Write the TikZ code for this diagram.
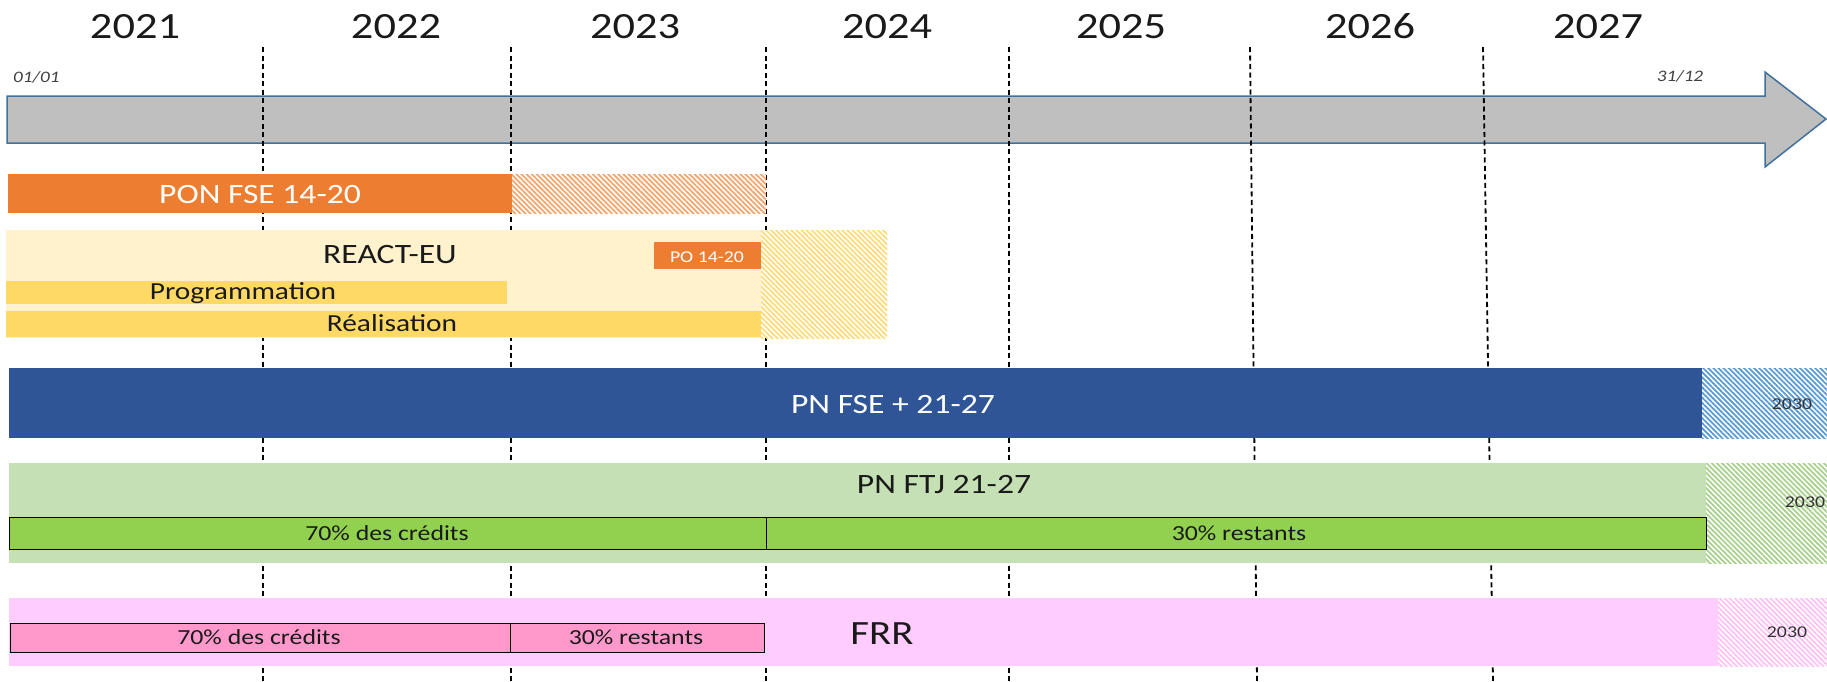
\documentclass[tikz,border=0pt]{standalone}
\usepackage{fontspec}
\setmainfont{Carlito}[FakeStretch=1.2]
\usetikzlibrary{patterns.meta}
\definecolor{grayfill}{HTML}{BFBFBF}
\definecolor{arrowline}{HTML}{41719C}
\definecolor{orangebar}{HTML}{ED7D31}
\definecolor{hatchorange}{HTML}{F4A66F}
\definecolor{reactbg}{HTML}{FFF2CC}
\definecolor{yellowbar}{HTML}{FFD966}
\definecolor{hatchyellow}{HTML}{FFDC7A}
\definecolor{bluebar}{HTML}{2F5597}
\definecolor{hatchblue}{HTML}{5B9BD5}
\definecolor{greenbg}{HTML}{C5E0B4}
\definecolor{greenbar}{HTML}{92D050}
\definecolor{hatchgreen}{HTML}{A9D18E}
\definecolor{pinkbg}{HTML}{FFCCFF}
\definecolor{pinkbar}{HTML}{FF99CC}
\definecolor{hatchpink}{HTML}{FFC2F5}
\definecolor{darktext}{HTML}{1A1A1A}
\begin{document}
\begin{tikzpicture}[x=1pt,y=-1pt,
  txt/.style={anchor=base, inner sep=0pt, text=darktext},
  yr/.style={txt, font=\fontsize{37}{40}\selectfont},
  big/.style={txt, font=\fontsize{28}{32}\selectfont},
  mid/.style={txt, font=\fontsize{24.5}{28}\selectfont},
  small/.style={txt, font=\fontsize{21.5}{24}\selectfont},
  tiny/.style={txt, font=\fontsize{16.5}{19}\selectfont},
  dateit/.style={txt, font=\fontsize{16}{18}\selectfont\itshape, text=black!75},
  yeartag/.style={txt, font=\fontsize{16.5}{19}\selectfont, text=black!80},
  dashline/.style={black, line width=1.8pt, dash pattern=on 5pt off 3.5pt},
  hatch/.style={preaction={fill=white}, pattern={Lines[angle=-45,distance=3.6pt,line width=1.8pt]}, pattern color=#1},
  inbar/.style={draw=black, line width=1pt}
]
\useasboundingbox[fill=white] (0,0) rectangle (1827,681);

% timeline arrow
\draw[fill=grayfill, draw=arrowline, line width=1.5pt]
  (7,96) -- (1765,96) -- (1765,72) -- (1826,119) -- (1765,167) -- (1765,143) -- (7,143) -- cycle;

% year separators
\draw[dashline] (263,47) -- (263,681);
\draw[dashline] (511,47) -- (511,681);
\draw[dashline] (766,47) -- (766,681);
\draw[dashline] (1009,47) -- (1009,681);
\draw[dashline] (1250,47) -- (1257,681);
\draw[dashline] (1483,47) -- (1493,681);

% years
\node[yr] (y21) at (135,38) {2021};
\node[yr] (y22) at (396,38) {2022};
\node[yr] (y23) at (635,38) {2023};
\node[yr] (y24) at (887,38) {2024};
\node[yr] (y25) at (1121,38) {2025};
\node[yr] (y26) at (1370,38) {2026};
\node[yr] (y27) at (1598,38) {2027};
\node[dateit, anchor=base west] (d1) at (13,82) {01/01};
\node[dateit] (d2) at (1680,81) {31/12};

% PON FSE 14-20
\fill[orangebar] (8,174) rectangle (512,213);
\path[hatch=hatchorange] (512,174) rectangle (766,213);
\node[big, text=white] (pon) at (260,203) {PON FSE 14-20};

% REACT-EU
\fill[reactbg] (6,230) rectangle (761,338);
\path[hatch=hatchyellow] (761,230) rectangle (887,338);
\node[big] (react) at (390,263) {REACT-EU};
\fill[orangebar] (654,242) rectangle (761,269);
\node[tiny, text=white] (po) at (707,262) {PO 14-20};
\fill[yellowbar] (6,281) rectangle (507,304);
\node[mid] (prog) at (243,299.5) {Programmation};
\fill[yellowbar] (6,311) rectangle (761,337);
\node[mid] (real) at (392,331.5) {Réalisation};

% PN FSE+ 21-27
\fill[bluebar] (9,368) rectangle (1702,438);
\path[hatch=hatchblue] (1702,368) rectangle (1827,438);
\node[big, text=white] (fse) at (893,413) {PN FSE + 21-27};
\node[yeartag] (t1) at (1792,409) {2030};

% PN FTJ 21-27
\fill[greenbg] (9,463) rectangle (1706,563);
\path[hatch=hatchgreen] (1706,463) rectangle (1827,563);
\node[big] (ftj) at (944,493) {PN FTJ 21-27};
\node[yeartag] (t2) at (1805,507) {2030};
\draw[inbar, fill=greenbar] (9,517) rectangle (1706,549);
\draw[inbar] (766,517) -- (766,549);
\node[small] (g70) at (387,540) {70\% des crédits};
\node[small] (g30) at (1239,540) {30\% restants};

% FRR
\fill[pinkbg] (9,598) rectangle (1718,666);
\path[hatch=hatchpink] (1718,598) rectangle (1827,666);
\node[txt, font=\fontsize{34}{38}\selectfont] (frr) at (882,644) {FRR};
\node[yeartag] (t3) at (1787,637) {2030};
\draw[inbar, fill=pinkbar] (10,623) rectangle (764,652);
\draw[inbar] (510,623) -- (510,652);
\node[small] (p70) at (259,644.5) {70\% des crédits};
\node[small] (p30) at (636,644.5) {30\% restants};
\end{tikzpicture}
\end{document}
